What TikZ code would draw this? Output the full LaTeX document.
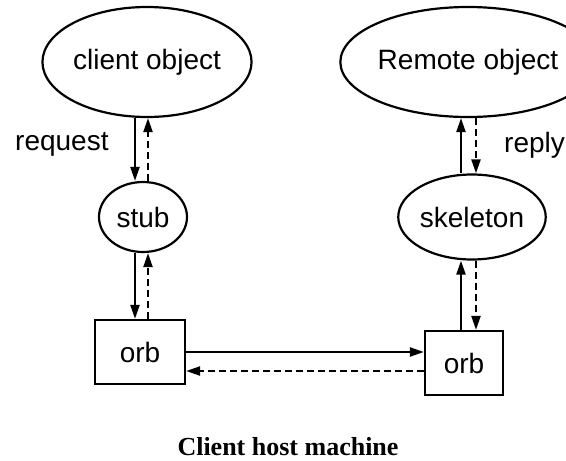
\documentclass[tikz,border=0pt]{standalone}
\usepackage{fontspec}
\setmainfont{Liberation Sans}
\newfontfamily\captionfont{Liberation Serif}
\usetikzlibrary{shapes.geometric,arrows.meta}

\begin{document}
\begin{tikzpicture}[x=1pt,y=-1pt,
  lbl/.style={font=\fontsize{28}{30}\selectfont},
  objnode/.style={ellipse,draw,line width=2.2pt,inner sep=0pt,lbl},
  orbbox/.style={rectangle,draw,line width=2.2pt,inner sep=0pt,lbl},
  call/.style={line width=2.2pt,-{Triangle[length=14pt,width=9pt]}},
  back/.style={call,dash pattern=on 7pt off 4pt}]

\useasboundingbox (0,0) rectangle (566,461);

% client side
\node[objnode,minimum width=188pt,minimum height=110pt] (cobj) at (147,62) {client object};
\node[objnode,minimum width=88pt,minimum height=70pt] (stub) at (143,217) {stub};
\node[orbbox,minimum width=90pt,minimum height=64pt] (orbL) at (140,352) {orb};

% server side
\node[objnode,minimum width=190pt,minimum height=110pt] (robj) at (468,62) {Remote object};
\node[objnode,minimum width=136pt,minimum height=85pt] (skel) at (472,217) {skeleton};
\node[orbbox,minimum width=78pt,minimum height=64pt] (orbR) at (464,363) {orb};

% request path, client side
\draw[call] ([xshift=-12pt]cobj.south) -- ([xshift=-8pt]stub.north);
\draw[back] ([xshift=5pt]stub.north) -- ([xshift=1pt]cobj.south);
\draw[call] ([xshift=-8pt]stub.south) -- ([xshift=-5pt]orbL.north);
\draw[back] ([xshift=8pt]orbL.north) -- ([xshift=5pt]stub.south);

% orb to orb
\draw[call] (orbL.east) -- ([yshift=11pt]orbR.west);
\draw[back] ([yshift=-8pt]orbR.west) -- ([yshift=-19pt]orbL.east);

% server side
\draw[call] ([xshift=-3pt]orbR.north) -- ([xshift=-11pt]skel.south);
\draw[back] ([xshift=4pt]skel.south) -- ([xshift=12pt]orbR.north);
\draw[call] ([xshift=-11pt]skel.north) -- ([xshift=-7pt]robj.south);
\draw[back] ([xshift=8pt]robj.south) -- ([xshift=4pt]skel.north);

% labels
\node[lbl,anchor=base west,inner sep=0pt] (req) at (15,150) {request};
\node[lbl,anchor=base west,inner sep=0pt] (rep) at (504,152) {reply};
\node[font=\captionfont\bfseries\fontsize{26}{28}\selectfont] (cap) at (288,447) {Client host machine};
\end{tikzpicture}
\end{document}
